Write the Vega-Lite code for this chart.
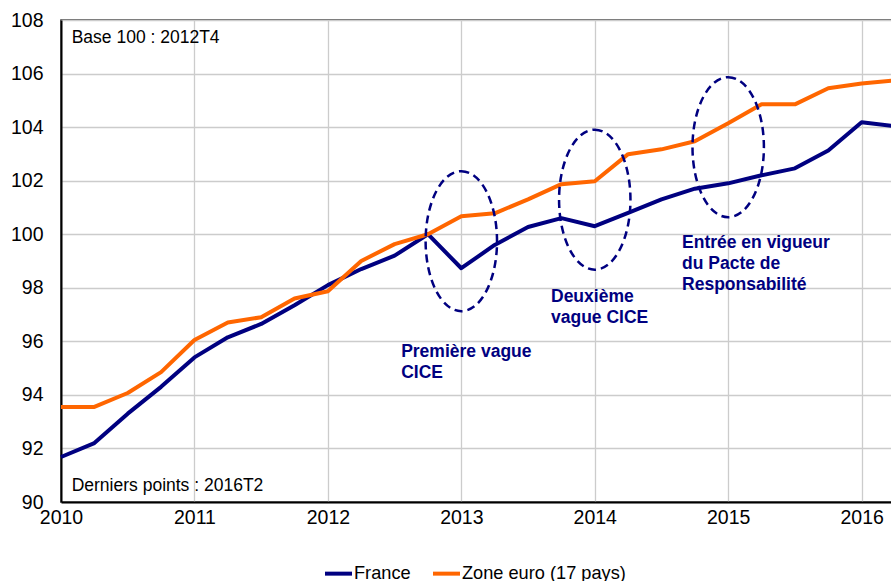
{
  "$schema": "https://vega.github.io/schema/vega-lite/v6.json",
  "width": 834,
  "height": 482,
  "autosize": {"type": "none"},
  "padding": {"left": 61, "top": 20, "right": 0, "bottom": 79},
  "background": "white",
  "config": {
    "font": "Liberation Sans",
    "view": {"stroke": "#333333", "strokeWidth": 1.5},
    "axis": {"labelFont": "Liberation Sans", "labelColor": "#000000", "ticks": false, "domainColor": "#000000", "domainWidth": 2, "gridColor": "#cccccc", "gridWidth": 1.3, "title": null}
  },
  "datasets": {
    "series": [
      {"s": "France", "t": 2010.0, "v": 91.68},
      {"s": "France", "t": 2010.25, "v": 92.2},
      {"s": "France", "t": 2010.5, "v": 93.3},
      {"s": "France", "t": 2010.75, "v": 94.3},
      {"s": "France", "t": 2011.0, "v": 95.4},
      {"s": "France", "t": 2011.25, "v": 96.15},
      {"s": "France", "t": 2011.5, "v": 96.65},
      {"s": "France", "t": 2011.75, "v": 97.35},
      {"s": "France", "t": 2012.0, "v": 98.1},
      {"s": "France", "t": 2012.25, "v": 98.7},
      {"s": "France", "t": 2012.5, "v": 99.2},
      {"s": "France", "t": 2012.75, "v": 100.0},
      {"s": "France", "t": 2013.0, "v": 98.73},
      {"s": "France", "t": 2013.25, "v": 99.6},
      {"s": "France", "t": 2013.5, "v": 100.27},
      {"s": "France", "t": 2013.75, "v": 100.6},
      {"s": "France", "t": 2014.0, "v": 100.3},
      {"s": "France", "t": 2014.25, "v": 100.8},
      {"s": "France", "t": 2014.5, "v": 101.3},
      {"s": "France", "t": 2014.75, "v": 101.7},
      {"s": "France", "t": 2015.0, "v": 101.9},
      {"s": "France", "t": 2015.25, "v": 102.2},
      {"s": "France", "t": 2015.5, "v": 102.46},
      {"s": "France", "t": 2015.75, "v": 103.13},
      {"s": "France", "t": 2016.0, "v": 104.18},
      {"s": "France", "t": 2016.25, "v": 104.03},
      {"s": "Zone euro (17 pays)", "t": 2010.0, "v": 93.55},
      {"s": "Zone euro (17 pays)", "t": 2010.25, "v": 93.55},
      {"s": "Zone euro (17 pays)", "t": 2010.5, "v": 94.07},
      {"s": "Zone euro (17 pays)", "t": 2010.75, "v": 94.85},
      {"s": "Zone euro (17 pays)", "t": 2011.0, "v": 96.05},
      {"s": "Zone euro (17 pays)", "t": 2011.25, "v": 96.7},
      {"s": "Zone euro (17 pays)", "t": 2011.5, "v": 96.9},
      {"s": "Zone euro (17 pays)", "t": 2011.75, "v": 97.6},
      {"s": "Zone euro (17 pays)", "t": 2012.0, "v": 97.87},
      {"s": "Zone euro (17 pays)", "t": 2012.25, "v": 99.0},
      {"s": "Zone euro (17 pays)", "t": 2012.5, "v": 99.63},
      {"s": "Zone euro (17 pays)", "t": 2012.75, "v": 100.0},
      {"s": "Zone euro (17 pays)", "t": 2013.0, "v": 100.67},
      {"s": "Zone euro (17 pays)", "t": 2013.25, "v": 100.78},
      {"s": "Zone euro (17 pays)", "t": 2013.5, "v": 101.3},
      {"s": "Zone euro (17 pays)", "t": 2013.75, "v": 101.87},
      {"s": "Zone euro (17 pays)", "t": 2014.0, "v": 101.98},
      {"s": "Zone euro (17 pays)", "t": 2014.25, "v": 102.99},
      {"s": "Zone euro (17 pays)", "t": 2014.5, "v": 103.17},
      {"s": "Zone euro (17 pays)", "t": 2014.75, "v": 103.47},
      {"s": "Zone euro (17 pays)", "t": 2015.0, "v": 104.14},
      {"s": "Zone euro (17 pays)", "t": 2015.25, "v": 104.85},
      {"s": "Zone euro (17 pays)", "t": 2015.5, "v": 104.85},
      {"s": "Zone euro (17 pays)", "t": 2015.75, "v": 105.45},
      {"s": "Zone euro (17 pays)", "t": 2016.0, "v": 105.63},
      {"s": "Zone euro (17 pays)", "t": 2016.25, "v": 105.75}
    ],
    "ellipses": [
      {"t": 2013.0, "v": 99.74},
      {"t": 2014.0, "v": 101.29},
      {"t": 2015.0, "v": 103.25}
    ],
    "notes": [
      {"t": 2012.549, "v": 95.41, "label": ["Première vague", "CICE"]},
      {"t": 2013.672, "v": 97.46, "label": ["Deuxième", "vague CICE"]},
      {"t": 2014.654, "v": 99.5, "label": ["Entrée en vigueur", "du Pacte de", "Responsabilité"]}
    ],
    "corner": [
      {"t": 2010.08, "v": 107.15, "label": "Base 100 : 2012T4"},
      {"t": 2010.08, "v": 90.41, "label": "Derniers points : 2016T2"}
    ]
  },
  "layer": [
    {
      "data": {"name": "series"},
      "mark": {"type": "line", "strokeWidth": 4, "strokeJoin": "round"},
      "encoding": {
        "x": {"field": "t", "type": "quantitative", "scale": {"domain": [2010, 2016.25], "nice": false, "zero": false},
              "axis": {"values": [2010, 2011, 2012, 2013, 2014, 2015, 2016], "format": "d", "labelFlush": false, "labelOverlap": false, "labelFontSize": 19.5, "labelPadding": 6, "gridColor": "#cccccc"}},
        "y": {"field": "v", "type": "quantitative", "scale": {"domain": [90, 108], "nice": false, "zero": false},
              "axis": {"values": [90, 92, 94, 96, 98, 100, 102, 104, 106, 108], "labelFontSize": 19.5, "labelPadding": 18}},
        "color": {"field": "s", "type": "nominal",
                  "scale": {"domain": ["France", "Zone euro (17 pays)"], "range": ["#000080", "#ff6600"]},
                  "legend": {"title": null, "orient": "none", "legendX": 262, "legendY": 538, "direction": "horizontal",
                             "symbolType": "stroke", "symbolSize": 729, "symbolStrokeWidth": 4, "labelFontSize": 18.2,
                             "labelColor": "#000000", "labelOffset": 0, "labelLimit": 400, "columnPadding": 14, "labelFont": "Liberation Sans"}}
      }
    },
    {
      "data": {"name": "ellipses"},
      "mark": {"type": "point", "shape": "M0,-1 A0.51,1 0 1,1 0,1 A0.51,1 0 1,1 0,-1 Z", "size": 19600, "filled": false,
               "stroke": "#000080", "strokeWidth": 2.5, "strokeDash": [8, 5], "opacity": 1},
      "encoding": {
        "x": {"field": "t", "type": "quantitative"},
        "y": {"field": "v", "type": "quantitative"}
      }
    },
    {
      "data": {"name": "notes"},
      "mark": {"type": "text", "align": "left", "baseline": "alphabetic", "fontSize": 17.5, "fontWeight": "bold", "color": "#000080", "lineHeight": 21},
      "encoding": {
        "x": {"field": "t", "type": "quantitative"},
        "y": {"field": "v", "type": "quantitative"},
        "text": {"field": "label"}
      }
    },
    {
      "data": {"name": "corner"},
      "mark": {"type": "text", "align": "left", "baseline": "alphabetic", "fontSize": 17.5, "color": "#000000"},
      "encoding": {
        "x": {"field": "t", "type": "quantitative"},
        "y": {"field": "v", "type": "quantitative"},
        "text": {"field": "label"}
      }
    }
  ]
}
